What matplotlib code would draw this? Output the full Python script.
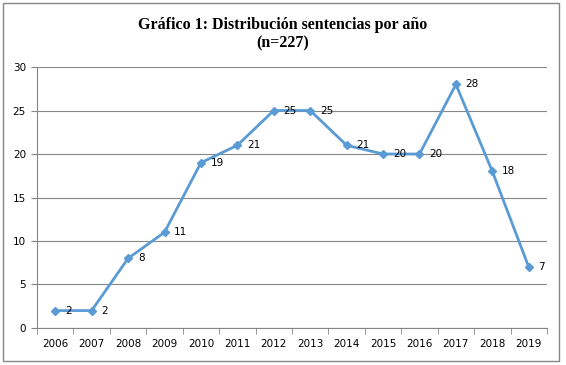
import matplotlib
matplotlib.use("Agg")
import matplotlib.pyplot as plt
from matplotlib.patches import Rectangle

years = ["2006", "2007", "2008", "2009", "2010", "2011", "2012",
         "2013", "2014", "2015", "2016", "2017", "2018", "2019"]
counts = [2, 2, 8, 11, 19, 21, 25, 25, 21, 20, 20, 28, 18, 7]

blue = "#5B9BD5"
grey = "#868686"

fig = plt.figure(figsize=(5.66, 3.65), dpi=100)
fig.patches.append(Rectangle((0.006, 0.011), 0.982, 0.98, transform=fig.transFigure,
                             fill=False, edgecolor=grey, linewidth=1))

ax = fig.add_axes([0.0654, 0.1014, 0.901, 0.715])
x = list(range(len(years)))
ax.plot(x, counts, color=blue, linewidth=2, marker="D", markersize=4.5,
        markerfacecolor=blue, markeredgecolor=blue)
for xi, v in zip(x, counts):
    ax.annotate(str(v), (xi, v), xytext=(7, 0), textcoords="offset points",
                va="center", ha="left", fontsize=7.5, family="DejaVu Sans")

ax.set_xlim(-0.5, len(years) - 0.5)
ax.set_ylim(0, 30)
ax.set_yticks(range(0, 31, 5))
ax.set_xticks(x)
ax.set_xticklabels(years)
ax.set_xticks([i - 0.5 for i in range(len(years) + 1)], minor=True)
ax.tick_params(axis="x", which="major", length=0, pad=8, labelsize=7.5)
ax.tick_params(axis="x", which="minor", length=4, color=grey, direction="out")
ax.tick_params(axis="y", length=4, color=grey, labelsize=7.5, pad=4)
ax.grid(axis="y", color=grey, linewidth=0.8)
ax.set_axisbelow(True)
for s in ["top", "right"]:
    ax.spines[s].set_visible(False)
for s in ["left", "bottom"]:
    ax.spines[s].set_color(grey)
    ax.spines[s].set_linewidth(0.8)

fig.text(0.5, 0.905, "Gráfico 1: Distribución sentencias por año\n(n=227)",
         ha="center", va="center", family="Liberation Serif", fontweight="bold",
         fontsize=11.5, linespacing=1.2)

fig.savefig("out.png", dpi=100)
